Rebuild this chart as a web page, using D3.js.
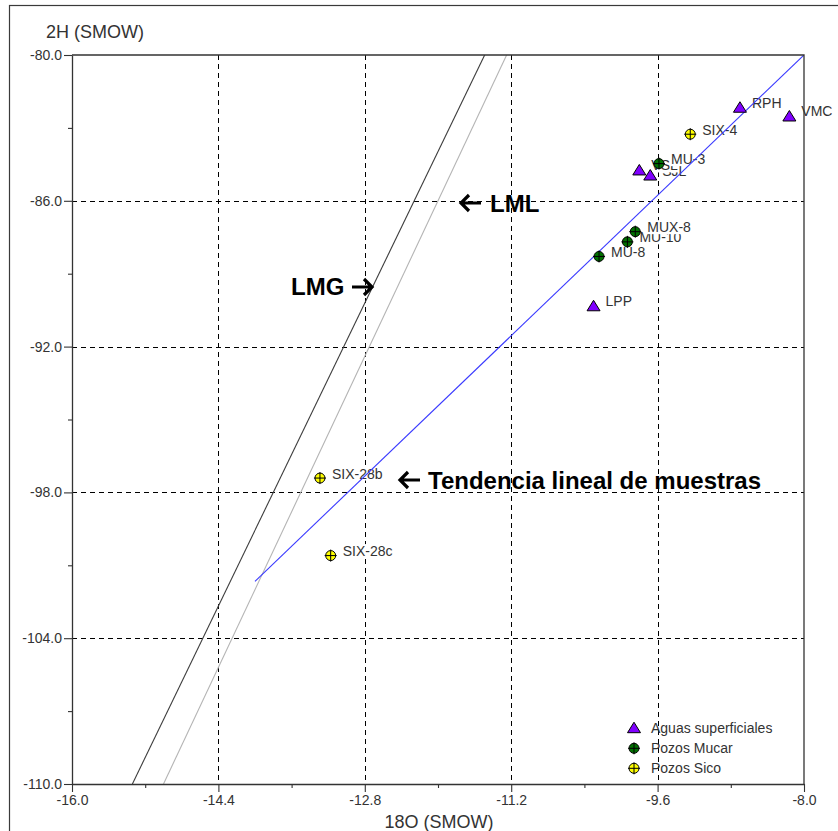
<!DOCTYPE html>
<html>
<head>
<meta charset="utf-8">
<script src="https://cdn.jsdelivr.net/npm/d3@7/dist/d3.min.js"></script>
<style>
  html, body { margin: 0; padding: 0; background: #fff; }
  svg { display: block; }
  text { font-family: "Liberation Sans", Arial, sans-serif; }
</style>
</head>
<body>
<svg id="chart" width="838" height="831"></svg>
<script>
// Isotope samples: δ18O vs δ2H (SMOW)
const aguasNames = ["RPH", "VMC", "SJL", "VSL", "LPP"];
const aguasO     = [-8.70, -8.16, -9.68, -9.80, -10.30];
const aguasH     = [-82.15, -82.51, -84.94, -84.73, -90.32];

const mucarNames = ["MU-3", "MU-8", "MU-10", "MUX-8"];
const mucarO     = [-9.585, -10.24, -9.93, -9.844];
const mucarH     = [-84.47, -88.29, -87.69, -87.27];

const sicoNames  = ["SIX-4", "SIX-28b", "SIX-28c"];
const sicoO      = [-9.243, -13.29, -13.173];
const sicoH      = [-83.26, -97.41, -100.60];

// Reference lines (end points in data units)
const lmgO   = [-15.34, -11.49];
const lmgH   = [-110, -80];
const lmlO   = [-15.0, -11.25];
const lmlH   = [-110, -80];
const trendO = [-14.0, -8.0];
const trendH = [-101.66, -80.0];

const xTicks      = [-16.0, -14.4, -12.8, -11.2, -9.6, -8.0];
const xMinorTicks = [-15.2, -13.6, -12.0, -10.4, -8.8];
const yTicks      = [-80.0, -86.0, -92.0, -98.0, -104.0, -110.0];
const yMinorTicks = [-83.0, -89.0, -95.0, -101.0, -107.0];

const seriesLabels = ["Aguas superficiales", "Pozos Mucar", "Pozos Sico"];

const svg = d3.select("#chart");
const pLeft = 72, pRight = 804, pTop = 55, pBottom = 784;

const x = d3.scaleLinear().domain([-16, -8]).range([pLeft, pRight]);
const y = d3.scaleLinear().domain([-80, -110]).range([pTop, pBottom]);

svg.append("rect").attr("width", 838).attr("height", 831).attr("fill", "#fff");
// outer frame
svg.append("rect").attr("x", 9.5).attr("y", 5.5).attr("width", 840).attr("height", 840)
  .attr("fill", "none").attr("stroke", "#3a3a3a").attr("stroke-width", 1.2);

svg.append("clipPath").attr("id", "plotclip")
  .append("rect").attr("x", pLeft).attr("y", pTop).attr("width", pRight - pLeft).attr("height", pBottom - pTop);

// dashed grid
const grid = svg.append("g").attr("stroke", "#000").attr("stroke-width", 1).attr("stroke-dasharray", "5,4");
grid.selectAll(".gx").data(xTicks.slice(1, -1)).join("line")
  .attr("x1", d => Math.round(x(d)) + 0.5).attr("x2", d => Math.round(x(d)) + 0.5)
  .attr("y1", pTop).attr("y2", pBottom);
grid.selectAll(".gy").data(yTicks.slice(1, -1)).join("line")
  .attr("y1", d => Math.round(y(d)) + 0.5).attr("y2", d => Math.round(y(d)) + 0.5)
  .attr("x1", pLeft).attr("x2", pRight);

// point labels with white boxes, drawn in series order
const series = [
  { names: aguasNames, o: aguasO, h: aguasH, kind: "tri" },
  { names: mucarNames, o: mucarO, h: mucarH, kind: "green" },
  { names: sicoNames,  o: sicoO,  h: sicoH,  kind: "yellow" }
];

const labelLayer = svg.append("g");
series.forEach(s => {
  s.names.forEach((n, i) => {
    const g = labelLayer.append("g");
    const bg = g.append("rect").attr("fill", "#fff");
    const t = g.append("text")
      .attr("x", x(s.o[i]) + 12)
      .attr("y", y(s.h[i]) + 0.5)
      .attr("font-size", 14)
      .attr("fill", "#333")
      .text(n);
    const bb = t.node().getBBox();
    bg.attr("x", bb.x - 1).attr("y", bb.y + 1).attr("width", bb.width + 2).attr("height", bb.height - 2);
  });
});

// lines
const lineGen = d3.line().x(d => x(d[0])).y(d => y(d[1]));
const lines = svg.append("g").attr("clip-path", "url(#plotclip)").attr("fill", "none");
lines.append("path").datum(d3.zip(lmgO, lmgH)).attr("d", lineGen)
  .attr("stroke", "#3c3c3c").attr("stroke-width", 1.1);
lines.append("path").datum(d3.zip(lmlO, lmlH)).attr("d", lineGen)
  .attr("stroke", "#b4b4b4").attr("stroke-width", 1.1);
lines.append("path").datum(d3.zip(trendO, trendH)).attr("d", lineGen)
  .attr("stroke", "#3a3aff").attr("stroke-width", 1.1);

// markers
function drawMarker(g, kind, cx, cy) {
  if (kind === "tri") {
    g.append("path")
      .attr("d", `M${cx},${cy - 5.5}L${cx + 6.5},${cy + 5}L${cx - 6.5},${cy + 5}Z`)
      .attr("fill", "#8000ff").attr("stroke", "#000").attr("stroke-width", 1);
  } else {
    const fill = kind === "green" ? "#007000" : "#ffff00";
    g.append("circle").attr("cx", cx).attr("cy", cy).attr("r", 5)
      .attr("fill", fill).attr("stroke", "#000").attr("stroke-width", 1);
    g.append("path")
      .attr("d", `M${cx - 6},${cy}H${cx + 6}M${cx},${cy - 6}V${cy + 6}`)
      .attr("stroke", "#000").attr("stroke-width", 1);
  }
}
const markers = svg.append("g");
series.forEach(s => {
  s.o.forEach((o, i) => drawMarker(markers, s.kind, x(o), y(s.h[i])));
});

// annotations: bold label plus a heavy arrow
function arrow(x0, x1, ay) {
  // arrow from x0 (tail) to x1 (head)
  const dir = Math.sign(x1 - x0);
  svg.append("path")
    .attr("d", `M${x0},${ay}H${x1 - dir * 1.5}M${x1 - dir * 8},${ay - 8}L${x1},${ay}L${x1 - dir * 8},${ay + 8}`)
    .attr("fill", "none").attr("stroke", "#000").attr("stroke-width", 3.2)
    .attr("stroke-linecap", "butt").attr("stroke-linejoin", "miter");
}
function annot(tx, ty, label) {
  svg.append("text").attr("x", tx).attr("y", ty).attr("font-size", 24)
    .attr("font-weight", "bold").attr("fill", "#000").text(label);
}
arrow(481, 461, 203);
annot(490, 212, "LML");
arrow(352, 372, 287);
annot(291, 295, "LMG");
arrow(420, 400, 480);
annot(428, 489, "Tendencia lineal de muestras");

// legend
const legend = svg.append("g");
const legendKinds = ["tri", "green", "yellow"];
const legendY = [727.7, 748.3, 768.3];
seriesLabels.forEach((lab, i) => {
  drawMarker(legend, legendKinds[i], 634, legendY[i]);
  legend.append("text").attr("x", 651).attr("y", legendY[i] + 5)
    .attr("font-size", 14).attr("fill", "#333").text(lab);
});

// axes
const fmt = d => d.toFixed(1);
const xAxis = svg.append("g").attr("transform", `translate(0,${pBottom})`)
  .call(d3.axisBottom(x).tickValues(xTicks).tickFormat(fmt).tickSize(8).tickPadding(3).tickSizeOuter(0));
const xMinor = svg.append("g").attr("transform", `translate(0,${pBottom})`)
  .call(d3.axisBottom(x).tickValues(xMinorTicks).tickFormat("").tickSize(4).tickSizeOuter(0));
const yAxis = svg.append("g").attr("transform", `translate(${pLeft},0)`)
  .call(d3.axisLeft(y).tickValues(yTicks).tickFormat(fmt).tickSize(8).tickPadding(2).tickSizeOuter(0));
const yMinor = svg.append("g").attr("transform", `translate(${pLeft},0)`)
  .call(d3.axisLeft(y).tickValues(yMinorTicks).tickFormat("").tickSize(4).tickSizeOuter(0));

[xAxis, xMinor, yAxis, yMinor].forEach(a => {
  a.selectAll(".domain").attr("stroke", "#333").attr("stroke-width", 1.3);
  a.selectAll(".tick line").attr("stroke", "#333").attr("stroke-width", 1.1);
  a.selectAll(".tick text").attr("font-size", 14).attr("fill", "#333")
    .attr("font-family", "'Liberation Sans', Arial, sans-serif");
});
xMinor.select(".domain").remove();
yMinor.select(".domain").remove();

// top and right frame of the plot
svg.append("path").attr("d", `M${pLeft},${pTop}H${pRight}V${pBottom}`)
  .attr("fill", "none").attr("stroke", "#333").attr("stroke-width", 1.3);

// axis titles
svg.append("text").attr("x", 46).attr("y", 38).attr("font-size", 18).attr("fill", "#333").text("2H (SMOW)");
svg.append("text").attr("x", 439).attr("y", 828).attr("text-anchor", "middle")
  .attr("font-size", 18).attr("fill", "#333").text("18O (SMOW)");
</script>
</body>
</html>
